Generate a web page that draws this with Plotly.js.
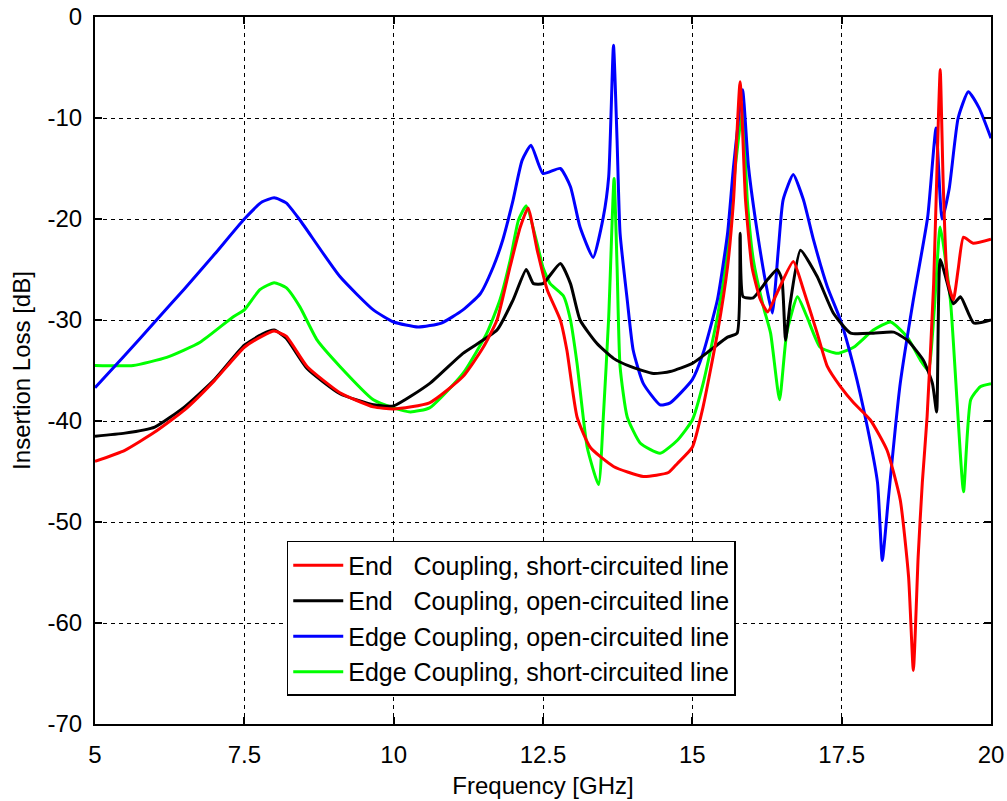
<!DOCTYPE html>
<html>
<head>
<meta charset="utf-8">
<script src="https://cdn.plot.ly/plotly-3.0.1.min.js"></script>
<style>html,body{margin:0;padding:0;background:#fff;}#chart{width:1007px;height:801px;}</style>
</head>
<body>
<div id="chart"></div>
<script>
// End Coupling, short-circuited line (red)
const freqRed = [5, 5.5, 6, 6.5, 7, 7.5, 7.8, 8.0, 8.2, 8.55, 9.1, 9.66, 10, 10.6, 11.16, 11.5, 11.73, 11.95, 12.12, 12.25, 12.4, 12.57, 12.79, 12.9, 13.07, 13.29, 13.68, 14.18, 14.6, 14.75, 15.0, 15.18, 15.42, 15.59, 15.69, 15.8, 15.89, 16.0, 16.14, 16.26, 16.42, 16.69, 16.86, 17.09, 17.26, 17.48, 17.7, 17.98, 18.26, 18.48, 18.62, 18.70, 18.78, 18.85, 18.93, 19.04, 19.12, 19.15, 19.2, 19.27, 19.37, 19.45, 19.54, 19.7, 20];
const lossRed = [-44, -42.9, -41.1, -38.9, -36, -32.7, -31.6, -31.1, -31.6, -34.6, -37.2, -38.6, -38.8, -38.2, -35.6, -32.7, -30, -24.7, -20.8, -18.9, -23, -27, -30, -33, -39.6, -42.6, -44.5, -45.5, -45.1, -44.2, -42.6, -38.6, -31.3, -24.7, -18.1, -6.4, -18.1, -24.8, -28, -29.2, -27.3, -24.2, -27, -31.3, -34.6, -36.6, -38.2, -39.9, -42.9, -47.8, -55.4, -64.7, -53.5, -46.1, -39.6, -26.4, -9.9, -5.2, -16.5, -26, -28, -25, -21.8, -22.4, -22];

// End Coupling, open-circuited line (black)
const freqBlack = [5, 5.5, 6, 6.5, 7, 7.5, 7.8, 8.0, 8.2, 8.55, 9.1, 9.66, 10, 10.6, 11.16, 11.73, 12.0, 12.22, 12.34, 12.5, 12.79, 12.96, 13.12, 13.4, 13.68, 13.96, 14.35, 14.63, 15.0, 15.3, 15.59, 15.75, 15.8, 15.85, 16.02, 16.26, 16.42, 16.5, 16.56, 16.64, 16.81, 17.09, 17.36, 17.65, 18.03, 18.37, 18.6, 18.87, 19.02, 19.09, 19.15, 19.27, 19.37, 19.49, 19.71, 20];
const lossBlack = [-41.5, -41.2, -40.6, -38.6, -35.9, -32.5, -31.4, -31, -31.8, -34.8, -37.3, -38.4, -38.5, -36.3, -33.3, -31, -28, -25, -26.4, -26.4, -24.4, -26.4, -30, -32.3, -33.8, -34.6, -35.3, -35.1, -34.3, -33, -31.7, -31.3, -21.4, -27.7, -27.8, -26, -25, -26, -32, -28.3, -23.1, -25.7, -29.3, -31.3, -31.3, -31.2, -32, -34, -36.3, -39.1, -24, -26.4, -28.4, -27.7, -30.3, -30];

// Edge Coupling, open-circuited line (blue)
const freqBlue = [5, 5.5, 6, 6.5, 7, 7.5, 7.8, 8.0, 8.2, 8.43, 9.1, 9.66, 10, 10.41, 10.8, 11.16, 11.45, 11.67, 11.83, 12.0, 12.15, 12.3, 12.5, 12.79, 12.96, 13.12, 13.34, 13.51, 13.6, 13.68, 13.74, 13.79, 13.91, 14.01, 14.18, 14.46, 14.63, 15.0, 15.18, 15.42, 15.59, 15.69, 15.84, 15.94, 16.09, 16.26, 16.34, 16.44, 16.52, 16.69, 16.86, 17.03, 17.26, 17.48, 17.7, 17.93, 18.1, 18.18, 18.28, 18.4, 18.48, 18.7, 18.94, 19.08, 19.18, 19.3, 19.45, 19.62, 19.8, 20];
const lossBlue = [-36.7, -33.5, -30.2, -26.9, -23.5, -20, -18.3, -17.9, -18.4, -20.1, -25.7, -29, -30.2, -30.7, -30.3, -29, -27.4, -24.7, -22, -18.1, -14.2, -12.7, -15.5, -15, -16.8, -20.8, -23.8, -19.8, -15.8, -2.8, -12.2, -21.4, -28, -33, -36.3, -38.4, -38.2, -35.9, -33.3, -28, -21.4, -14.8, -7.2, -14.8, -21.4, -27.3, -29.3, -23, -18.1, -15.6, -18.1, -22.1, -26.7, -30, -34.6, -40.6, -46.1, -53.8, -47.8, -40.6, -36.3, -28, -19.8, -11, -20, -17, -10, -7.4, -9, -12];

// Edge Coupling, short-circuited line (green)
const freqGreen = [5, 5.64, 6.2, 6.76, 7.31, 7.5, 7.76, 8.0, 8.2, 8.43, 8.72, 9.1, 9.66, 10, 10.28, 10.6, 11.16, 11.56, 11.78, 11.95, 12.09, 12.22, 12.4, 12.5, 12.62, 12.84, 12.96, 13.07, 13.24, 13.43, 13.51, 13.6, 13.69, 13.74, 13.79, 13.91, 14.13, 14.46, 14.75, 15.0, 15.18, 15.42, 15.59, 15.72, 15.84, 15.92, 16.02, 16.19, 16.31, 16.46, 16.58, 16.76, 16.92, 17.14, 17.43, 17.7, 18.03, 18.32, 18.6, 18.82, 18.95, 19.05, 19.15, 19.32, 19.43, 19.54, 19.66, 19.82, 20];
const lossGreen = [-34.5, -34.5, -33.7, -32.2, -29.7, -29, -27, -26.3, -26.8, -28.7, -32, -34.6, -37.9, -38.7, -39.1, -38.7, -35.3, -31.3, -28, -24.1, -20.1, -18.7, -22.4, -24.8, -26.4, -27.6, -30, -34.3, -42.6, -46.3, -39.6, -29.7, -16, -24.7, -34.6, -39.6, -42.2, -43.2, -41.9, -39.9, -36.3, -29.7, -23.1, -14.8, -9.2, -18.1, -24, -28.7, -31.3, -37.9, -31.3, -27.7, -29.7, -32.7, -33.3, -32.7, -31, -30.2, -31.7, -34, -35, -29, -20.8, -28, -37.9, -47, -37.9, -36.6, -36.3];

const seriesNames = [
  'End\u00a0\u00a0\u00a0Coupling, short-circuited line',
  'End\u00a0\u00a0\u00a0Coupling, open-circuited line',
  'Edge Coupling, open-circuited line',
  'Edge Coupling, short-circuited line'
];
const xTickVals = [5, 7.5, 10, 12.5, 15, 17.5, 20];
const xTickText = ['5', '7.5', '10', '12.5', '15', '17.5', '20'];
const yTickVals = [0, -10, -20, -30, -40, -50, -60, -70];
const yTickText = ['0', '-10', '-20', '-30', '-40', '-50', '-60', '-70'];

const lw = 3;
const traces = [
  {x: freqGreen, y: lossGreen, name: seriesNames[3], legendrank: 4, line: {color: '#00ff00', width: lw, shape: 'spline', smoothing: 0.5}},
  {x: freqBlue, y: lossBlue, name: seriesNames[2], legendrank: 3, line: {color: '#0000ff', width: lw, shape: 'spline', smoothing: 0.5}},
  {x: freqBlack, y: lossBlack, name: seriesNames[1], legendrank: 2, line: {color: '#000000', width: lw, shape: 'spline', smoothing: 0.5}},
  {x: freqRed, y: lossRed, name: seriesNames[0], legendrank: 1, line: {color: '#ff0000', width: lw, shape: 'spline', smoothing: 0.5}}
].map(t => Object.assign({type: 'scatter', mode: 'lines'}, t));

const fontFam = 'Liberation Sans, Arial, sans-serif';
const axisCommon = {
  showline: true, linecolor: '#000', linewidth: 2, mirror: 'allticks',
  ticks: 'inside', ticklen: 7, tickwidth: 2, tickcolor: '#000',
  showgrid: true, gridcolor: '#000', gridwidth: 1, griddash: '4px,4px',
  zeroline: false, tickfont: {family: fontFam, size: 24, color: '#000'}
};

const layout = {
  width: 1007, height: 801,
  margin: {l: 95, r: 16, t: 17, b: 77},
  paper_bgcolor: '#fff', plot_bgcolor: '#fff',
  font: {family: fontFam, color: '#000'},
  showlegend: true,
  xaxis: Object.assign({}, axisCommon, {
    range: [5, 20], tickmode: 'array', tickvals: xTickVals, ticktext: xTickText,
    ticklabelstandoff: 8,
    title: {text: 'Frequency [GHz]', font: {family: fontFam, size: 24, color: '#000'}, standoff: 10}
  }),
  yaxis: Object.assign({}, axisCommon, {
    range: [-70, 0], tickmode: 'array', tickvals: yTickVals, ticktext: yTickText,
    ticklabelstandoff: 6,
    title: {text: 'Insertion Loss [dB]', font: {family: fontFam, size: 24, color: '#000'}, standoff: 10}
  }),
  legend: {
    x: 0.214, y: 0.259, xanchor: 'left', yanchor: 'top',
    bgcolor: '#fff', bordercolor: '#000', borderwidth: 1.5,
    font: {family: fontFam, size: 25, color: '#000'},
    traceorder: 'normal', itemwidth: 50, entrywidth: 470
  }
};

Plotly.newPlot('chart', traces, layout, {displayModeBar: false, staticPlot: true});
</script>
</body>
</html>
